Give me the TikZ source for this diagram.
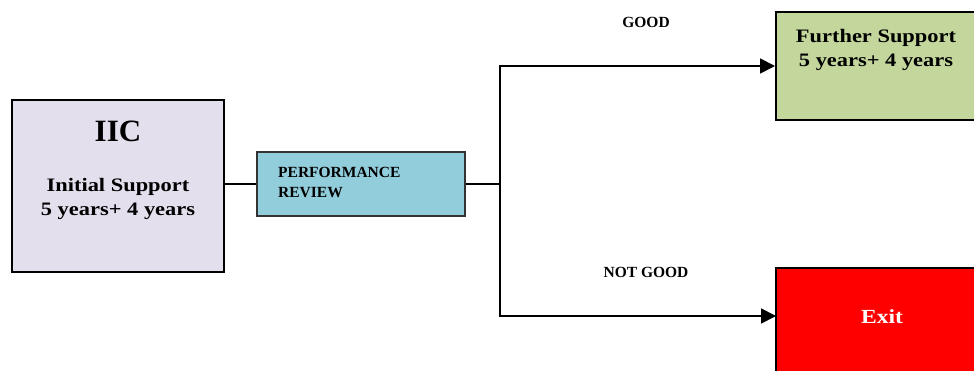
\documentclass[tikz,border=0pt]{standalone}
\usepackage{fontspec}
\setmainfont{Liberation Serif}
\newfontfamily\cam[FakeStretch=1.18]{Liberation Serif}
\usetikzlibrary{arrows.meta}
\definecolor{lav}{HTML}{E4DFEC}
\definecolor{blu}{HTML}{92CDDC}
\definecolor{grn}{HTML}{C3D69B}
\tikzset{
  box/.style={draw=black, line width=2pt, minimum width=#1, inner sep=0pt},
  conn/.style={line width=1.8pt},
  arr/.style={conn, -{Triangle[length=15pt,width=15pt]}},
  lbl/.style={font=\fontsize{15.5}{17}\selectfont\bfseries, inner sep=0pt},
  big/.style={font=\cam\fontsize{19}{24}\selectfont\bfseries, inner sep=0pt, align=center}
}
\begin{document}
\begin{tikzpicture}[x=1pt,y=-1pt]
\useasboundingbox (0,0) rectangle (974,371);
\clip (0,0) rectangle (974,371);
% boxes
\node[box=212pt, minimum height=172pt, fill=lav] (iic) at (118,186) {};
\node[box=208pt, minimum height=64pt, fill=blu, draw=black!80, line width=1.5pt] (perf) at (361,184) {};
\node[box=220pt, minimum height=108pt, fill=grn] (further) at (886,66) {};
\node[box=220pt, minimum height=120pt, fill=red] (exit) at (886,328) {};
% texts
\node[font=\fontsize{31}{34}\selectfont\bfseries, inner sep=0pt] (iict) at (118,131) {IIC};
\node[big] (iics) at (118,199) {Initial Support\\5 years+ 4 years};
\node[lbl, align=left, anchor=west, font=\fontsize{15.5}{20}\selectfont\bfseries] (perft) at (278,182) {PERFORMANCE\\REVIEW};
\node[big] (furthert) at (876,50) {Further Support\\5 years+ 4 years};
\node[big, text=white, font=\cam\fontsize{20}{24}\selectfont\bfseries] (exitt) at (882,317) {Exit};
\node[lbl] (good) at (646,22) {GOOD};
\node[lbl] (notgood) at (646,272) {NOT GOOD};
% connectors
\coordinate (j) at (500,184);
\coordinate (exitin) at (776,316);
\draw[conn] (perf.west -| iic.east) -- (perf.west);
\draw[conn] (perf.east) -- (j);
\draw[arr] (j) |- (further.west);
\draw[arr] (j) |- (exitin);
\end{tikzpicture}
\end{document}
